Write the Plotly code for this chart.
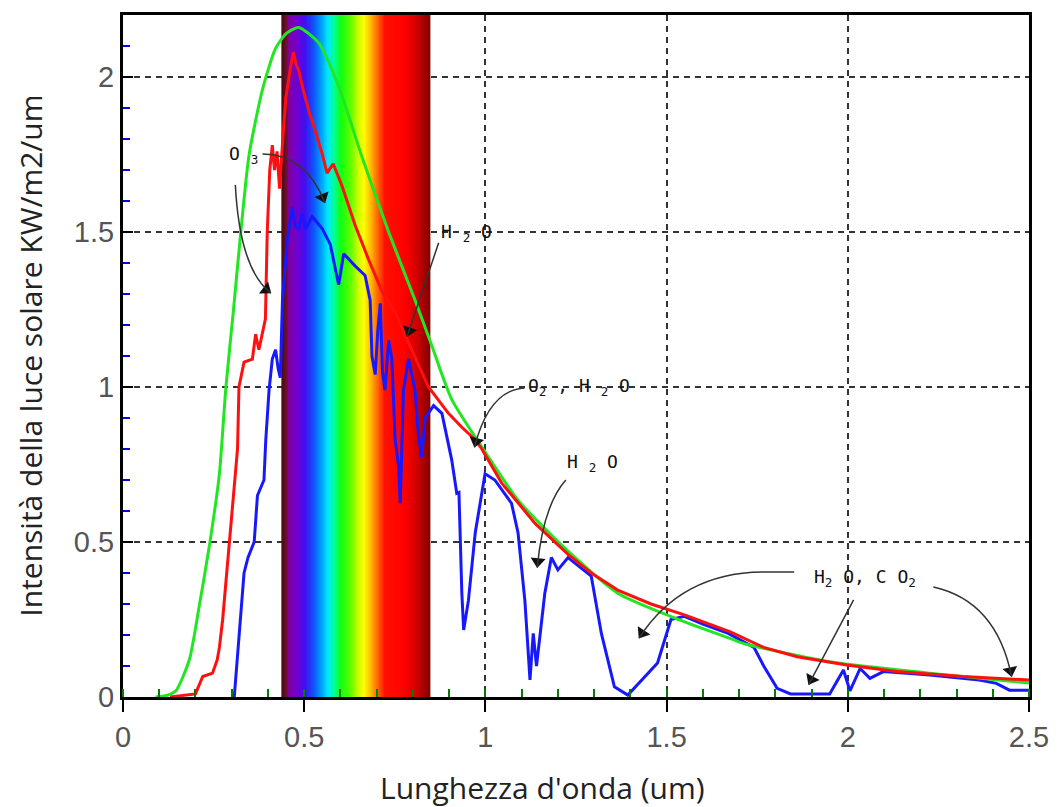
import math
import numpy as np
import plotly.graph_objects as go

# ---------------- data ----------------
green_x = [0.09, 0.12, 0.146, 0.183, 0.21, 0.24, 0.266, 0.284, 0.305, 0.325, 0.348, 0.385,
           0.42, 0.45, 0.485, 0.54, 0.595, 0.66, 0.733, 0.806, 0.85, 0.907, 1.008, 1.09,
           1.219, 1.365, 1.511, 1.585, 1.686, 1.72, 1.95, 2.225, 2.5]
green_y = [0.0, 0.005, 0.02, 0.12, 0.29, 0.5, 0.72, 1.0, 1.25, 1.5, 1.75, 1.96,
           2.09, 2.14, 2.16, 2.11, 1.97, 1.74, 1.5, 1.28, 1.14, 0.96, 0.775, 0.635,
           0.48, 0.335, 0.26, 0.227, 0.184, 0.17, 0.114, 0.077, 0.045]

red_x = [0.13, 0.2, 0.22, 0.247, 0.26, 0.266, 0.275, 0.283, 0.293, 0.305, 0.316, 0.32,
         0.334, 0.357, 0.366, 0.375, 0.385, 0.393, 0.398, 0.405, 0.412, 0.418, 0.425,
         0.432, 0.438, 0.449, 0.462, 0.47, 0.478, 0.485, 0.499, 0.513, 0.527, 0.55,
         0.563, 0.58, 0.604, 0.624, 0.641, 0.678, 0.714, 0.751, 0.797, 0.843, 0.898,
         0.935, 0.972, 0.99, 1.045, 1.137, 1.228, 1.292, 1.365, 1.457, 1.549, 1.676,
         1.768, 1.86, 1.997, 2.135, 2.318, 2.5]
red_y = [0.0, 0.01, 0.066, 0.077, 0.12, 0.16, 0.25, 0.36, 0.51, 0.65, 0.8, 1.0,
         1.08, 1.09, 1.17, 1.12, 1.18, 1.22, 1.5, 1.7, 1.78, 1.7, 1.76,
         1.64, 1.75, 1.93, 2.03, 2.08, 2.04, 2.02, 1.95, 1.89, 1.84, 1.75,
         1.69, 1.72, 1.65, 1.58, 1.52, 1.41, 1.31, 1.24, 1.12, 1.0, 0.915,
         0.87, 0.83, 0.80, 0.69, 0.56, 0.46, 0.40, 0.345, 0.30, 0.265, 0.21,
         0.16, 0.13, 0.103, 0.082, 0.066, 0.055]

blue_x = [0.307, 0.316, 0.325, 0.334, 0.345, 0.362, 0.371, 0.389, 0.394, 0.403, 0.412,
          0.421, 0.428, 0.434, 0.44, 0.453, 0.467, 0.475, 0.485, 0.495, 0.504, 0.522,
          0.55, 0.572, 0.595, 0.609, 0.641, 0.668, 0.682, 0.687, 0.696, 0.703, 0.71,
          0.716, 0.723, 0.733, 0.742, 0.751, 0.76, 0.765, 0.774, 0.788, 0.806, 0.815,
          0.824, 0.834, 0.857, 0.88, 0.907, 0.921, 0.927, 0.935, 0.94, 0.953, 0.972,
          0.999, 1.026, 1.072, 1.09, 1.109, 1.123, 1.132, 1.141, 1.164, 1.182, 1.2,
          1.228, 1.292, 1.32, 1.356, 1.393, 1.438, 1.475, 1.512, 1.549, 1.6, 1.67,
          1.741, 1.768, 1.805, 1.842, 1.95, 1.988, 2.006, 2.034, 2.061, 2.098, 2.226,
          2.363, 2.41, 2.446, 2.5]
blue_y = [0.0, 0.13, 0.26, 0.40, 0.45, 0.50, 0.65, 0.70, 0.83, 0.99, 1.09,
          1.12, 1.06, 1.03, 1.28, 1.47, 1.58, 1.52, 1.51, 1.56, 1.51, 1.55,
          1.51, 1.46, 1.33, 1.43, 1.39, 1.36, 1.28, 1.10, 1.04, 1.18, 1.27,
          1.05, 0.99, 1.15, 1.09, 0.83, 0.75, 0.625, 0.99, 1.09, 0.99, 0.85,
          0.775, 0.90, 0.94, 0.915, 0.765, 0.657, 0.66, 0.335, 0.216, 0.31, 0.53,
          0.72, 0.70, 0.625, 0.53, 0.31, 0.055, 0.205, 0.10, 0.335, 0.45, 0.41,
          0.45, 0.39, 0.205, 0.033, 0.006, 0.065, 0.11, 0.25, 0.26, 0.235, 0.205,
          0.16, 0.10, 0.028, 0.01, 0.01, 0.087, 0.02, 0.092, 0.06, 0.082, 0.071,
          0.055, 0.044, 0.022, 0.022]

x_tick_vals = [0, 0.5, 1, 1.5, 2, 2.5]
x_tick_text = ["0", "0.5", "1", "1.5", "2", "2.5"]
y_tick_vals = [0, 0.5, 1, 1.5, 2]
y_tick_text = ["0", "0.5", "1", "1.5", "2"]

x_title = "Lunghezza d'onda (um)"
y_title = "Intensità della luce solare KW/m2/um"

# visible spectrum band (decoration)
band_x0, band_x1 = 0.437, 0.849
band_stops = [(0.0, "#4a0a10"), (0.033, "#6a1030"), (0.048, "#8000a0"), (0.103, "#7000d0"),
              (0.158, "#4010f0"), (0.213, "#1050ff"), (0.268, "#00a0ff"), (0.311, "#00e8ff"),
              (0.355, "#00ff90"), (0.40, "#10ff10"), (0.465, "#60ff00"), (0.52, "#d0ff00"),
              (0.553, "#ffff00"), (0.607, "#ffb000"), (0.65, "#ff6000"), (0.695, "#ff1000"),
              (0.827, "#ff0000"), (0.914, "#d00000"), (1.0, "#800000")]

labels = [
    ("O <sub>3</sub>", 0.288, 1.748),
    ("H <sub>2</sub> O", 0.872, 1.497),
    ("O<sub>2</sub> , H <sub>2</sub> O", 1.113, 1.0),
    ("H <sub>2</sub> O", 1.221, 0.755),
    ("H<sub>2</sub> O, C O<sub>2</sub>", 1.902, 0.384),
]
arrows = [
    [(0.385, 1.752), (0.505, 1.752), (0.557, 1.594)],
    [(0.310, 1.652), (0.322, 1.38), (0.408, 1.303)],
    [(0.871, 1.465), (0.784, 1.163)],
    [(1.108, 0.997), (1.01, 0.99), (0.970, 0.806)],
    [(1.222, 0.700), (1.16, 0.62), (1.143, 0.418)],
    [(1.852, 0.403), (1.764, 0.403), (1.54, 0.40), (1.424, 0.19)],
    [(2.016, 0.313), (1.892, 0.040)],
    [(2.236, 0.355), (2.41, 0.31), (2.452, 0.066)],
]

# ---------------- figure ----------------
W, H = 1061, 807
ML, MR, MT, MB = 123, 28, 15, 110
XR = [0, 2.5]
YR = [0, 2.2]
sx = (W - ML - MR) / (XR[1] - XR[0])
sy = (H - MT - MB) / (YR[1] - YR[0])

fig = go.Figure()

n_band = 240
band_edges = np.linspace(band_x0, band_x1, n_band + 1)
fig.add_trace(go.Heatmap(
    x=band_edges, y=[YR[0], YR[1]], z=[list(range(n_band))],
    colorscale=[[p, c] for p, c in band_stops], showscale=False,
    hoverinfo="skip", zsmooth=False,
))

fig.add_trace(go.Scatter(x=blue_x, y=blue_y, mode="lines",
                         line=dict(color="#1818ff", width=3), hoverinfo="skip"))
fig.add_trace(go.Scatter(x=green_x, y=green_y, mode="lines",
                         line=dict(color="#22e622", width=3, shape="spline", smoothing=0.6),
                         hoverinfo="skip"))
fig.add_trace(go.Scatter(x=red_x, y=red_y, mode="lines",
                         line=dict(color="#ff1010", width=3), hoverinfo="skip"))

annotations = []
for txt, lx, ly in labels:
    annotations.append(dict(x=lx, y=ly, xref="x", yref="y", text=txt, showarrow=False,
                            xanchor="left", yanchor="middle",
                            font=dict(family="DejaVu Sans Mono", size=18, color="#111")))

shapes = []
head_x, head_y, head_ang = [], [], []
for pts in arrows:
    if len(pts) == 2:
        (x0, y0), (x1, y1) = pts
        path = f"M {x0},{y0} L {x1},{y1}"
        cx, cy = x0, y0
    elif len(pts) == 3:
        (x0, y0), (cx, cy), (x1, y1) = pts
        path = f"M {x0},{y0} Q {cx},{cy} {x1},{y1}"
    else:
        (x0, y0), (mx, my), (cx, cy), (x1, y1) = pts
        path = f"M {x0},{y0} L {mx},{my} Q {cx},{cy} {x1},{y1}"
    shapes.append(dict(type="path", path=path, xref="x", yref="y",
                       line=dict(color="#333", width=1.5)))
    dxp = (x1 - cx) * sx
    dyp = (y1 - cy) * sy
    L = math.hypot(dxp, dyp)
    back = 6.0
    head_x.append(x1 - dxp / L * back / sx)
    head_y.append(y1 - dyp / L * back / sy)
    head_ang.append(math.degrees(math.atan2(dxp, dyp)))

fig.add_trace(go.Scatter(x=head_x, y=head_y, mode="markers", hoverinfo="skip",
                         marker=dict(symbol="triangle-up", size=13, angle=head_ang,
                                     color="#111", line=dict(width=0))))

annotations.append(dict(text=x_title, xref="paper", yref="paper", x=0.463, y=-0.132,
                        xanchor="center", yanchor="middle", showarrow=False,
                        font=dict(family="Open Sans", size=30, color="#222")))
annotations.append(dict(text=y_title, xref="paper", yref="paper", x=-0.103, y=0.5,
                        xanchor="center", yanchor="middle", showarrow=False, textangle=-90,
                        font=dict(family="Open Sans", size=30, color="#222")))

fig.update_layout(
    width=W, height=H,
    margin=dict(l=ML, r=MR, t=MT, b=MB),
    paper_bgcolor="white", plot_bgcolor="white",
    showlegend=False,
    xaxis=dict(range=XR, tickmode="array", tickvals=x_tick_vals, ticktext=x_tick_text,
               showline=True, linewidth=3, linecolor="black", mirror=True,
               ticks="outside", ticklen=12, tickwidth=2, tickcolor="black",
               showgrid=True, gridcolor="#333", gridwidth=1.5, griddash="6px,5px",
               zeroline=False,
               tickfont=dict(family="Liberation Sans", size=29, color="#555"),
               minor=dict(tickmode="linear", tick0=0, dtick=0.1, ticks="inside", ticklen=8,
                          tickwidth=2, tickcolor="green")),
    yaxis=dict(range=YR, tickmode="array", tickvals=y_tick_vals, ticktext=y_tick_text,
               showline=True, linewidth=3, linecolor="black", mirror=True,
               ticks="inside", ticklen=10, tickwidth=2, tickcolor="black",
               showgrid=True, gridcolor="#333", gridwidth=1.5, griddash="6px,5px",
               zeroline=False,
               tickfont=dict(family="Liberation Sans", size=29, color="#555"),
               minor=dict(tickmode="linear", tick0=0, dtick=0.1, ticks="inside", ticklen=7,
                          tickwidth=2, tickcolor="blue")),
    annotations=annotations,
    shapes=shapes,
)

fig.write_html("out.html")
